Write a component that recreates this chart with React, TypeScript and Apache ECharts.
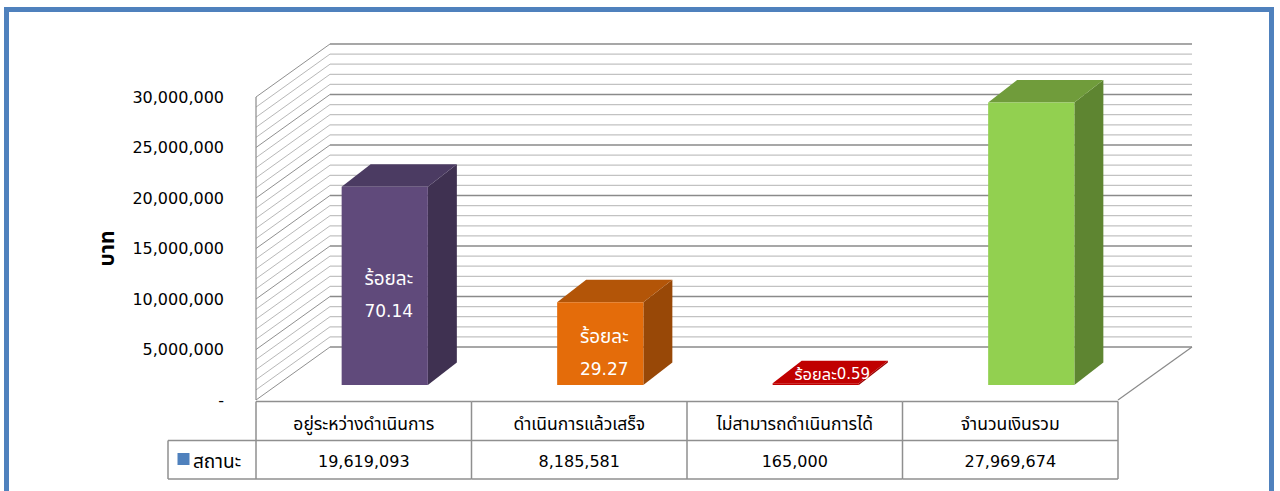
import React, { useEffect, useRef } from "react";
import * as echarts from "echarts";

const categories = [
  "อยู่ระหว่างดำเนินการ",
  "ดำเนินการแล้วเสร็จ",
  "ไม่สามารถดำเนินการได้",
  "จำนวนเงินรวม",
];
const values = [19619093, 8185581, 165000, 27969674];
const percents: (number | null)[] = [70.14, 29.27, 0.59, null];
const seriesName = "สถานะ";
const yAxisTitle = "บาท";
const percentWord = "ร้อยละ";
const yMax = 30000000;
const yMajorStep = 5000000;
const yMinorStep = 1000000;

const palette = [
  { front: "#604A7B", top: "#4B3B62", side: "#3F3151" },
  { front: "#E46C0A", top: "#B35508", side: "#984807" },
  { front: "#C00000", top: "#C00000", side: "#9A0000" },
  { front: "#92D050", top: "#709C3B", side: "#5E8531" },
];

const FONT = "Tahoma, 'DejaVu Sans', 'Noto Sans Thai', sans-serif";
const WALL_DX = 74;
const WALL_DY = 53;
const BAR_SHIFT_X = 21;
const BAR_SHIFT_Y = 15;
const BAR_DX = 29;
const BAR_DY = 22.5;

const fmt = (v: number) => v.toLocaleString("en-US");

export default function App() {
  const ref = useRef<HTMLDivElement>(null);
  useEffect(() => {
    if (!ref.current) return;
    const chart = echarts.init(ref.current, undefined, { renderer: "svg" });

    const wallsRender = (params: any, api: any) => {
      const band = api.size([1, 0])[0];
      const x0 = api.coord([0, 0])[0] - band / 2;
      const x1 = x0 + band * categories.length;
      const children: any[] = [];
      for (let v = 0; v <= yMax; v += yMinorStep) {
        const y = api.coord([0, v])[1];
        const major = v % yMajorStep === 0;
        const stroke = major ? "#8a8a8a" : "#c2c2c2";
        const lw = major ? 1.4 : 1.2;
        children.push({
          type: "line",
          shape: { x1: x0 + WALL_DX, y1: y - WALL_DY, x2: x1 + WALL_DX, y2: y - WALL_DY },
          style: { stroke, lineWidth: lw },
        });
        children.push({
          type: "line",
          shape: { x1: x0, y1: y, x2: x0 + WALL_DX, y2: y - WALL_DY },
          style: { stroke: major ? "#909090" : "#b8b8b8", lineWidth: 1 },
        });
      }
      const yb = api.coord([0, 0])[1];
      const yt = api.coord([0, yMax])[1];
      children.push({
        type: "line",
        shape: { x1: x0, y1: yb, x2: x0, y2: yt },
        style: { stroke: "#8a8a8a", lineWidth: 1.2 },
      });
      children.push({
        type: "line",
        shape: { x1: x1, y1: yb, x2: x1 + WALL_DX, y2: yb - WALL_DY },
        style: { stroke: "#8a8a8a", lineWidth: 1.2 },
      });
      return { type: "group", children };
    };

    const barsRender = (params: any, api: any) => {
      const i = api.value(0);
      const v = api.value(1);
      const [cx, yTop] = api.coord([i, v]);
      const yBase = api.coord([i, 0])[1];
      const band = api.size([1, 0])[0];
      const w = band * 0.4;
      const L = cx + BAR_SHIFT_X - w / 2;
      const R = L + w;
      const T = yTop - BAR_SHIFT_Y;
      const B = yBase - BAR_SHIFT_Y;
      const c = palette[i];
      const children: any[] = [
        {
          type: "polygon",
          shape: { points: [[R, T], [R + BAR_DX, T - BAR_DY], [R + BAR_DX, B - BAR_DY], [R, B]] },
          style: { fill: c.side },
        },
        {
          type: "polygon",
          shape: { points: [[L, T], [R, T], [R + BAR_DX, T - BAR_DY], [L + BAR_DX, T - BAR_DY]] },
          style: { fill: c.top },
        },
        {
          type: "rect",
          shape: { x: L, y: T, width: w, height: Math.max(B - T, 0) },
          style: { fill: c.front },
        },
      ];
      const p = percents[i];
      if (p !== null && p !== undefined) {
        if (B - T > 40) {
          children.push({
            type: "text",
            x: (L + R) / 2 + 4,
            y: (T + B) / 2 + 9,
            style: {
              text: "{a|" + percentWord + "}\n{b|" + p.toFixed(2) + "}",
              rich: {
                a: { fill: "#ffffff", fontSize: 19, fontFamily: FONT, lineHeight: 33 },
                b: { fill: "#ffffff", fontSize: 17, fontFamily: FONT, lineHeight: 33 },
              },
              fill: "#ffffff",
              align: "center",
              verticalAlign: "middle",
            },
          });
        } else {
          children.push({
            type: "text",
            x: (L + R) / 2 + BAR_DX / 2 + 2,
            y: T - BAR_DY / 2 + 2,
            style: {
              text: "{a|" + percentWord + "}{b|" + p.toFixed(2) + "}",
              rich: {
                a: { fill: "#ffffff", fontSize: 16.5, fontFamily: FONT },
                b: { fill: "#ffffff", fontSize: 15, fontFamily: FONT },
              },
              fill: "#ffffff",
              align: "center",
              verticalAlign: "middle",
            },
          });
        }
      }
      return { type: "group", children };
    };

    const tableRender = (params: any, api: any) => {
      const i = api.value(0);
      const [cx, y0] = api.coord([i, 0]);
      const band = api.size([1, 0])[0];
      const left = cx - band / 2;
      const right = cx + band / 2;
      const top = y0 + 1.5;
      const mid = y0 + 40.5;
      const bot = y0 + 79;
      const lineStyle = { stroke: "#8f8f8f", lineWidth: 1.5 };
      const children: any[] = [
        {
          type: "text",
          x: cx,
          y: y0 + 24,
          style: {
            text: categories[i],
            fill: "#000",
            fontSize: 17.5,
            fontFamily: FONT,
            align: "center",
            verticalAlign: "middle",
          },
        },
        {
          type: "text",
          x: cx,
          y: y0 + 61,
          style: {
            text: fmt(values[i]),
            fill: "#000",
            fontSize: 16,
            fontFamily: FONT,
            align: "center",
            verticalAlign: "middle",
          },
        },
        { type: "line", shape: { x1: right, y1: top, x2: right, y2: bot }, style: lineStyle },
        { type: "line", shape: { x1: left, y1: top, x2: right, y2: top }, style: lineStyle },
        { type: "line", shape: { x1: left, y1: mid, x2: right, y2: mid }, style: lineStyle },
        { type: "line", shape: { x1: left, y1: bot, x2: right, y2: bot }, style: lineStyle },
      ];
      if (i === 0) {
        const lx = left - 88;
        children.push(
          { type: "line", shape: { x1: left, y1: top, x2: left, y2: bot }, style: lineStyle },
          { type: "line", shape: { x1: lx, y1: mid, x2: left, y2: mid }, style: lineStyle },
          { type: "line", shape: { x1: lx, y1: bot, x2: left, y2: bot }, style: lineStyle },
          { type: "line", shape: { x1: lx, y1: mid, x2: lx, y2: bot }, style: lineStyle },
          {
            type: "rect",
            shape: { x: lx + 9.5, y: mid + 12.5, width: 12, height: 12 },
            style: { fill: "#4F81BD" },
          },
          {
            type: "text",
            x: lx + 25,
            y: mid + 20,
            style: {
              text: seriesName,
              fill: "#000",
              fontSize: 19,
              fontFamily: FONT,
              align: "left",
              verticalAlign: "middle",
            },
          }
        );
      }
      return { type: "group", children };
    };

    chart.setOption({
      animation: false,
      backgroundColor: "#ffffff",
      grid: { left: 256, top: 97, width: 862, height: 303, containLabel: false },
      xAxis: {
        type: "category",
        data: categories,
        axisLine: { show: false },
        axisTick: { show: false },
        axisLabel: { show: false },
        splitLine: { show: false },
      },
      yAxis: {
        type: "value",
        min: 0,
        max: yMax,
        interval: yMajorStep,
        axisLine: { show: false },
        axisTick: { show: false },
        splitLine: { show: false },
        axisLabel: {
          margin: 32,
          fontSize: 16,
          color: "#000",
          fontFamily: FONT,
          formatter: (v: number) => (v === 0 ? "-" : fmt(v)),
        },
        name: yAxisTitle,
        nameLocation: "middle",
        nameGap: 139,
        nameRotate: 90,
        nameTextStyle: { fontSize: 21, fontWeight: "bold", color: "#000", fontFamily: FONT },
      },
      graphic: [
        {
          type: "rect",
          shape: { x: 6.5, y: 9.5, width: 1265, height: 520 },
          style: { fill: "none", stroke: "#4F81BD", lineWidth: 5 },
          silent: true,
        },
      ],
      series: [
        {
          type: "custom",
          name: "walls",
          renderItem: wallsRender,
          data: [[0, 0]],
          encode: { x: 0, y: 1 },
          silent: true,
          z: 1,
        },
        {
          type: "custom",
          name: seriesName,
          renderItem: barsRender,
          data: values.map((v, i) => [i, v]),
          encode: { x: 0, y: 1 },
          silent: true,
          z: 2,
        },
        {
          type: "custom",
          name: "table",
          renderItem: tableRender,
          data: categories.map((c, i) => [i, 0]),
          encode: { x: 0, y: 1 },
          silent: true,
          z: 3,
        },
      ],
    });
    return () => chart.dispose();
  }, []);
  return (
    <div
      ref={ref}
      style={{ position: "fixed", left: 0, top: 0, width: 1280, height: 491 }}
    />
  );
}
